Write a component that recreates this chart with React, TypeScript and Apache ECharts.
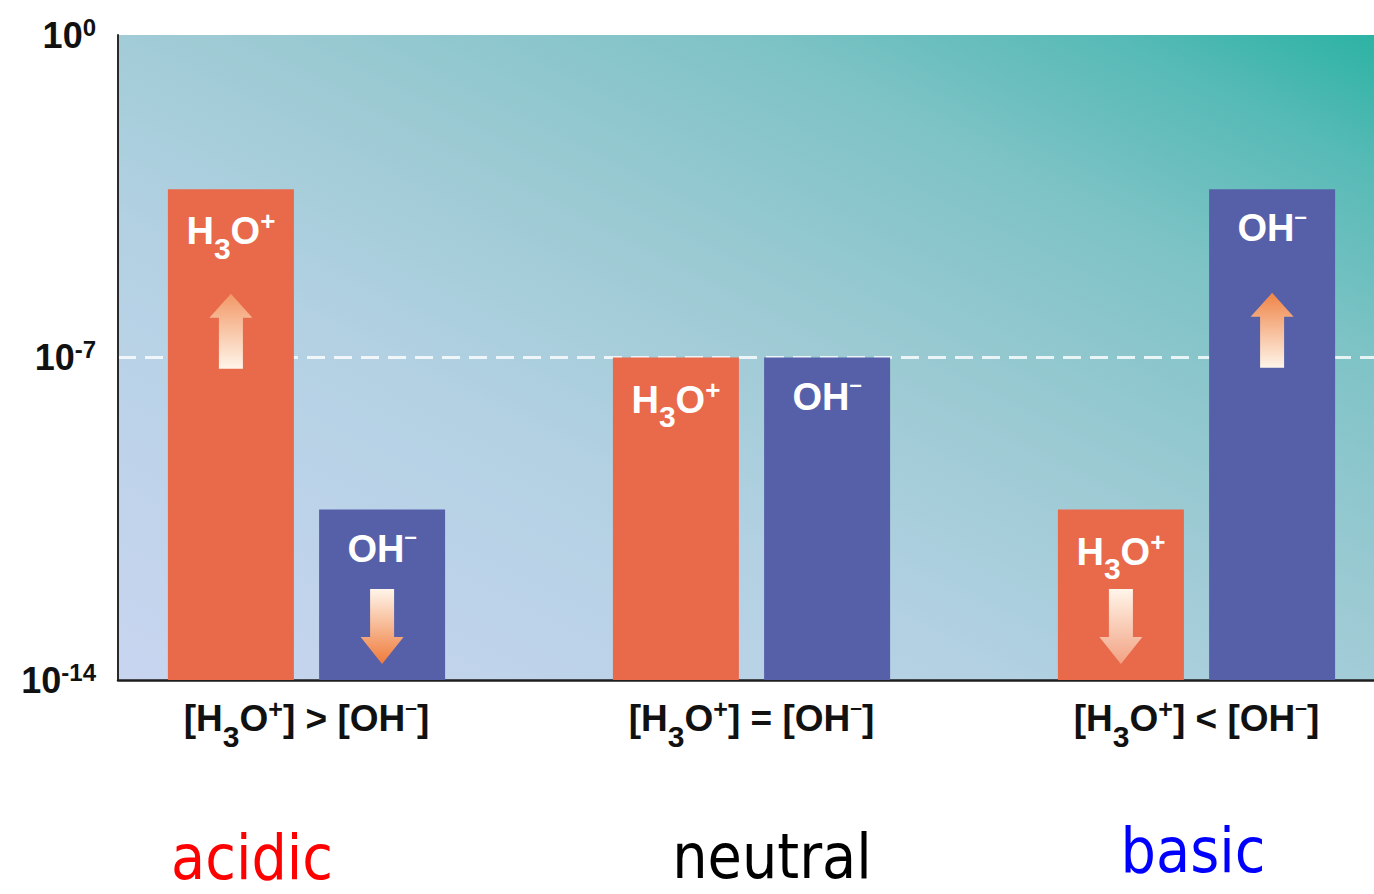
import React, { useEffect, useRef } from 'react';
import * as echarts from 'echarts';

// ---- data ----
const categoryLabels = ['[H3O+] > [OH-]', '[H3O+] = [OH-]', '[H3O+] < [OH-]'];
const seriesNames = ['H3O+', 'OH-'];
// log10 of concentration (exponent of 10)
const h3oExponents = [-3.35, -7, -10.3];
const ohExponents = [-10.3, -7, -3.35];
const yTickExponents = [-14, -7, 0];
// arrows drawn inside bars: category index, exponent at arrow centre, direction
const h3oArrows = [
  { cat: 0, exp: -6.43, dir: 'up' },
  { cat: 2, exp: -12.84, dir: 'down' },
];
const ohArrows = [
  { cat: 0, exp: -12.84, dir: 'down' },
  { cat: 2, exp: -6.41, dir: 'up' },
];
const phWords = ['acidic', 'neutral', 'basic'];
const phColors = ['#ff0000', '#000000', '#0000ff'];
const phWordX = [252, 772, 1193];
const phWordY = [857, 856, 850];

const MIN_EXP = yTickExponents[0];
const MAX_EXP = yTickExponents[yTickExponents.length - 1];
const shift = (e: number) => e - MIN_EXP;

const FONT = '"Liberation Sans", Arial, Helvetica, sans-serif';
const ORANGE = '#e9694b';
const BLUE = '#5660a9';

const UP_ARROW = 'path://M21.5,0 L43,24 L33.5,24 L33.5,75 L9.5,75 L9.5,24 L0,24 Z';
const DOWN_ARROW = 'path://M9.5,0 L33.5,0 L33.5,48 L43,48 L21.5,75 L0,48 L9.5,48 Z';

function chemToRich(s: string): string {
  let out = '';
  let cur = '';
  let curStyle = '';
  const push = (style: string, ch: string) => {
    if (style !== curStyle) {
      if (cur) out += `{${curStyle}|${cur}}`;
      cur = '';
      curStyle = style;
    }
    cur += ch;
  };
  for (let i = 0; i < s.length; i++) {
    const ch = s[i];
    const prev = i > 0 ? s[i - 1] : '';
    const prevLetter = /[A-Za-z]/.test(prev);
    if (/[0-9]/.test(ch) && prevLetter) push('sb', ch);
    else if (ch === '+' && prevLetter) push('sp', ch);
    else if (ch === '-' && prevLetter) push('mi', '\u2013');
    else push('m', ch);
  }
  if (cur) out += `{${curStyle}|${cur}}`;
  return out;
}

function chemRich(color: string, size: number) {
  const base = { color, fontFamily: FONT, fontWeight: 'bold' as const };
  const sbSize = Math.round(size * 0.8);
  const P = 4;
  const L = Math.round(P + size / 2 + 17 + sbSize / 2);
  return {
    m: { ...base, fontSize: size, lineHeight: L, verticalAlign: 'top', padding: [P, 0, 0, 0] },
    sb: { ...base, fontSize: sbSize, lineHeight: L, verticalAlign: 'bottom' },
    sp: { ...base, fontSize: Math.round(size * 0.68), verticalAlign: 'top' },
    mi: { ...base, fontSize: Math.round(size * 0.58), verticalAlign: 'top' },
  };
}

function arrowGradient(dir: string, onOrange: boolean) {
  const strong = onOrange ? '#f29866' : '#ef8446';
  const pale = '#fff5ea';
  const stops =
    dir === 'up'
      ? [{ offset: 0, color: strong }, { offset: 1, color: pale }]
      : [{ offset: 0, color: pale }, { offset: 1, color: onOrange ? '#f2a282' : '#ef7a3a' }];
  return new echarts.graphic.LinearGradient(0, 0, 0, 1, stops);
}

function arrowMarks(arrows: { cat: number; exp: number; dir: string }[], onOrange: boolean) {
  return arrows.map((a) => ({
    coord: [a.cat, shift(a.exp)],
    symbol: a.dir === 'up' ? UP_ARROW : DOWN_ARROW,
    symbolSize: [43, 75],
    itemStyle: { color: arrowGradient(a.dir, onOrange) },
  }));
}

export default function App() {
  const ref = useRef<HTMLDivElement>(null);

  useEffect(() => {
    if (!ref.current) return;
    const chart = echarts.init(ref.current, null, { renderer: 'svg' });

    const bg = new echarts.graphic.LinearGradient(0, 1, 1, 0, [
      { offset: 0, color: '#c9d5f0' },
      { offset: 0.35, color: '#b3d1e3' },
      { offset: 0.55, color: '#9ccad3' },
      { offset: 0.75, color: '#7ec3c6' },
      { offset: 0.9, color: '#55bab5' },
      { offset: 1, color: '#2cb3a3' },
    ]);

    const barLabel = (distance: number) => ({
      show: true,
      position: 'insideTop',
      distance,
      formatter: (p: any) => chemToRich(p.seriesName),
      rich: chemRich('#ffffff', 38),
    });

    const option: any = {
      animation: false,
      backgroundColor: '#ffffff',
      grid: [
        {
          left: 118, right: 0, top: 35, bottom: 214, show: true, backgroundColor: bg, borderWidth: 0,
          containLabel: false, outerBoundsMode: 'none',
        },
        { left: 84, width: 1335, top: 35, bottom: 214, containLabel: false, outerBoundsMode: 'none' },
      ],
      xAxis: [
        {
          gridIndex: 0,
          type: 'value',
          min: 0,
          max: 1,
          axisLine: { show: true, onZero: false, lineStyle: { color: '#1e1e1e', width: 2.5 } },
          axisTick: { show: false },
          axisLabel: { show: false },
          splitLine: { show: false },
        },
        {
          gridIndex: 1,
          type: 'category',
          data: categoryLabels,
          axisLine: { show: false },
          axisTick: { show: false },
          splitLine: { show: false },
          axisLabel: {
            interval: 0,
            margin: 16,
            formatter: (v: string) => chemToRich(v),
            rich: chemRich('#111111', 37),
          },
        },
      ],
      yAxis: [
        {
          gridIndex: 0,
          type: 'value',
          min: 0,
          max: shift(MAX_EXP),
          interval: 7,
          axisLine: { show: true, onZero: false, lineStyle: { color: '#2a2a2a', width: 2 } },
          axisTick: { show: false },
          axisLabel: {
            margin: 22,
            formatter: (v: number) => `{b|10}{s|${v + MIN_EXP}}`,
            rich: {
              b: { fontFamily: FONT, fontWeight: 'bold', fontSize: 36, lineHeight: 40, color: '#111111' },
              s: { fontFamily: FONT, fontWeight: 'bold', fontSize: 24, lineHeight: 18, verticalAlign: 'top', color: '#111111' },
            },
          },
          splitLine: {
            show: true,
            showMinLine: false,
            showMaxLine: false,
            lineStyle: { color: 'rgba(255,255,255,0.8)', type: [18, 9], width: 3 },
          },
        },
        { gridIndex: 1, type: 'value', min: 0, max: shift(MAX_EXP), show: false },
      ],
      series: [
        {
          name: seriesNames[0],
          type: 'bar',
          xAxisIndex: 1,
          yAxisIndex: 1,
          barWidth: 126,
          barGap: '20%',
          data: h3oExponents.map(shift),
          itemStyle: { color: ORANGE },
          label: barLabel(19),
          markPoint: { silent: true, label: { show: false }, data: arrowMarks(h3oArrows, true) },
        },
        {
          name: seriesNames[1],
          type: 'bar',
          xAxisIndex: 1,
          yAxisIndex: 1,
          barWidth: 126,
          barGap: '20%',
          data: ohExponents.map(shift),
          itemStyle: { color: BLUE },
          label: barLabel(16),
          markPoint: { silent: true, label: { show: false }, data: arrowMarks(ohArrows, false) },
        },
      ],
      graphic: phWords.map((w, i) => ({
        type: 'text',
        x: phWordX[i],
        y: phWordY[i],
        scaleX: 0.9,
        silent: true,
        style: {
          text: w,
          fill: phColors[i],
          fontSize: 62,
          fontFamily: '"Comic Sans MS", "DejaVu Sans", sans-serif',
          align: 'center',
          verticalAlign: 'middle',
        },
      })),
    };

    chart.setOption(option);
    return () => chart.dispose();
  }, []);

  return (
    <div
      ref={ref}
      style={{ position: 'absolute', left: 0, top: 0, width: 1374, height: 894, background: '#ffffff' }}
    />
  );
}
